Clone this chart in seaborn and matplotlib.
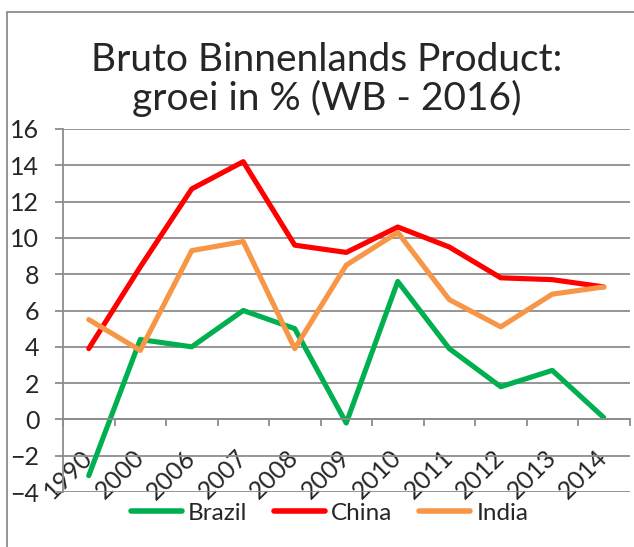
import matplotlib
matplotlib.use('Agg')
import matplotlib.pyplot as plt
import matplotlib.patches as mpatches
import numpy as np
import pandas as pd
import seaborn as sns

jaren = ['1990', '2000', '2006', '2007', '2008', '2009', '2010', '2011', '2012', '2013', '2014']
brazil = [-3.1, 4.4, 4.0, 6.0, 5.0, -0.2, 7.6, 3.9, 1.8, 2.7, 0.1]
china = [3.9, 8.4, 12.7, 14.2, 9.6, 9.2, 10.6, 9.5, 7.8, 7.7, 7.3]
india = [5.5, 3.8, 9.3, 9.8, 3.9, 8.5, 10.3, 6.6, 5.1, 6.9, 7.3]
kleuren = {'Brazil': '#00B050', 'China': '#FF0000', 'India': '#F79646'}

df = pd.DataFrame({'jaar': jaren, 'Brazil': brazil, 'China': china, 'India': india})
df_lang = df.melt(id_vars='jaar', var_name='land', value_name='groei')

sns.set_style('white')
plt.rcParams['font.family'] = ['Lato', 'DejaVu Sans']
grijs = '#8c8c8c'

fig = plt.figure(figsize=(6.34, 5.47), dpi=100)
ax = fig.add_axes([63 / 634, 1 - 492 / 547, (629.5 - 63) / 634, (492 - 129) / 547])

sns.lineplot(data=df_lang, x='jaar', y='groei', hue='land', palette=kleuren,
             sort=False, linewidth=3.7, ax=ax, legend=True)

ax.set_xlim(-0.5, len(jaren) - 0.5)
ax.set_ylim(-4, 16)
ax.set_yticks(np.arange(-4, 17, 2))
ax.yaxis.grid(True, color=grijs, linewidth=1.3)
ax.set_axisbelow(True)
ax.set_xlabel('')
ax.set_ylabel('')

for s in ['top', 'right']:
    ax.spines[s].set_visible(False)
ax.spines['left'].set_color(grijs)
ax.spines['left'].set_linewidth(1.3)
ax.spines['bottom'].set_position(('data', 0))
ax.spines['bottom'].set_color(grijs)
ax.spines['bottom'].set_linewidth(1.3)

ax.tick_params(axis='y', which='major', length=6, width=1.3, color=grijs,
               labelsize=18, pad=11, left=True)
ax.set_xticks(np.arange(-0.5, len(jaren), 1), minor=True)
ax.tick_params(axis='x', which='minor', length=5, width=1.3, color=grijs, bottom=True)
ax.tick_params(axis='x', which='major', length=0, pad=25, labelsize=18)
for lbl in ax.get_xticklabels():
    lbl.set_rotation(45)
    lbl.set_ha('right')
    lbl.set_va('center')
    lbl.set_rotation_mode('anchor')

leg = ax.legend(loc='center', bbox_to_anchor=(0.52, 0.062), bbox_transform=fig.transFigure,
                ncol=3, frameon=False, fontsize=17.5, handlelength=2.1,
                handletextpad=0.25, columnspacing=1.1)
for h in leg.get_lines():
    h.set_linewidth(4)

fig.text(327 / 634, 1 - 71 / 547, 'Bruto Binnenlands Product:', ha='center', va='baseline',
         fontsize=28)
fig.text(327 / 634, 1 - 110 / 547, 'groei in % (WB - 2016)', ha='center', va='baseline',
         fontsize=28)

rand = mpatches.Rectangle((7 / 634, -0.05), 1.1, 1 - 12 / 547 + 0.05, transform=fig.transFigure,
                          fill=False, edgecolor=grijs, linewidth=1.3)
fig.patches.append(rand)

fig.savefig('out.png', dpi=100, facecolor='white')
